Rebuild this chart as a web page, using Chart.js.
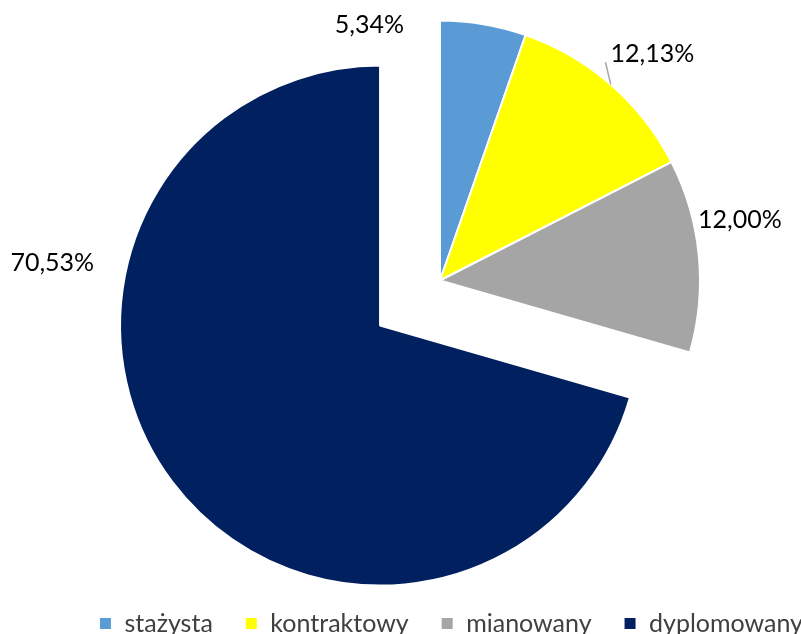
<!DOCTYPE html>
<html>
<head>
<meta charset="utf-8">
<style>
  html, body { margin: 0; padding: 0; background: #fff; overflow: hidden; }
  #wrap { position: relative; width: 801px; height: 634px; overflow: hidden; }
  /* canvas is a bit larger than the window: legend runs off the right/bottom edge like the original */
  #pie { position: absolute; left: 0; top: -18px; }
</style>
<script src="https://cdn.jsdelivr.net/npm/chart.js@4.4.1/dist/chart.umd.min.js"></script>
</head>
<body>
<div id="wrap"><canvas id="pie" width="835" height="664"></canvas></div>
<script>
// ====== dane ======
const categories = ['stażysta', 'kontraktowy', 'mianowany', 'dyplomowany'];
const shares = [5.34, 12.13, 12.00, 70.53];
const shareText = shares.map(v => v.toFixed(2).replace('.', ',') + '%');

const colors = ['#5B9BD5', '#FFFF00', '#A5A5A5', '#002060'];

// --- wysunięcie wycinka (przesunięcie bez powiększania promienia) ---
const explodeSlices = {
  id: 'explodeSlices',
  beforeDatasetDraw(chart, args, opts) {
    const { ctx } = chart;
    args.meta.data.forEach((arc, i) => {
      const mid = (arc.startAngle + arc.endAngle) / 2;
      const d = opts.dist[i] || 0;
      ctx.save();
      ctx.translate(Math.cos(mid) * d, Math.sin(mid) * d);
      arc.draw(ctx, chart.chartArea);
      ctx.restore();
    });
    return false;
  }
};

// --- etykiety procentowe przy wycinkach ---
const pieLabels = {
  id: 'pieLabels',
  afterDatasetsDraw(chart, args, opts) {
    const { ctx } = chart;
    const meta = chart.getDatasetMeta(0);
    const dist = chart.options.plugins.explodeSlices.dist;
    ctx.save();
    ctx.font = opts.font;
    ctx.fillStyle = opts.color;
    ctx.textAlign = 'center';
    ctx.textBaseline = 'alphabetic';
    meta.data.forEach((arc, i) => {
      const { x, y, startAngle, endAngle, outerRadius } =
        arc.getProps(['x', 'y', 'startAngle', 'endAngle', 'outerRadius'], true);
      const mid = (startAngle + endAngle) / 2;
      const push = dist[i] || 0;
      const cx = x + Math.cos(mid) * push;
      const cy = y + Math.sin(mid) * push;
      const a = mid + opts.shift[i] * Math.PI / 180;
      const d = outerRadius + opts.gap[i];
      const lx = cx + Math.cos(a) * d;
      const ly = cy + Math.sin(a) * d;
      const txt = shareText[i];
      ctx.fillText(txt, lx, ly + opts.capHalf);
      if (opts.leader[i]) {
        const w = ctx.measureText(txt).width;
        ctx.beginPath();
        ctx.moveTo(cx + Math.cos(mid) * outerRadius, cy + Math.sin(mid) * outerRadius);
        ctx.lineTo(lx - w / 2 - 5, ly + opts.capHalf);
        ctx.strokeStyle = opts.leaderColor;
        ctx.lineWidth = 1.5;
        ctx.stroke();
      }
    });
    ctx.restore();
  }
};

new Chart(document.getElementById('pie'), {
  type: 'pie',
  data: {
    labels: categories,
    datasets: [{
      data: shares,
      backgroundColor: colors,
      borderColor: '#ffffff',
      borderWidth: 2,
      hoverOffset: 0
    }]
  },
  options: {
    responsive: false,
    animation: false,
    events: [],
    radius: 260,
    layout: { padding: { left: 45, right: 0, top: 0, bottom: 0 } },
    plugins: {
      legend: {
        position: 'bottom',
        align: 'end',
        labels: { boxWidth: 13, boxHeight: 13, padding: 32, color: '#404040', font: { family: 'Lato', size: 25 } }
      },
      tooltip: { enabled: false },
      explodeSlices: { dist: [0, 0, 0, 75] },
      pieLabels: {
        font: '25px Lato',
        color: '#000000',
        capHalf: 9,
        shift: [-25, 2, -6, 48],
        gap: [6, 51, 46, 74],
        leader: [false, true, false, false],
        leaderColor: '#A6A6A6'
      }
    }
  },
  plugins: [explodeSlices, pieLabels]
});
</script>
</body>
</html>
